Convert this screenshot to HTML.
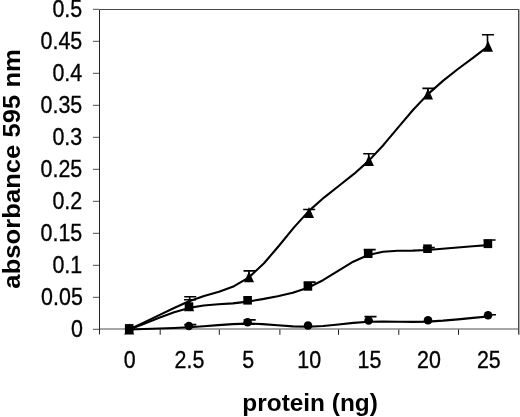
<!DOCTYPE html>
<html><head><meta charset="utf-8"><style>
html,body{margin:0;padding:0;background:#fff;}
body{width:520px;height:417px;overflow:hidden;}
svg{display:block;will-change:transform;}
.tk{font-family:"Liberation Sans",sans-serif;font-size:21px;fill:#000;stroke:#000;stroke-width:0.3px;}
.ti{font-family:"Liberation Sans",sans-serif;font-size:24px;font-weight:bold;fill:#000;}
</style></head><body>
<svg width="520" height="417" viewBox="0 0 520 417">
<path d="M99.5 9.5 H518.5 V334.5" fill="none" stroke="#484848" stroke-width="1"/>
<path d="M519.5 9 V335" fill="none" stroke="#b0b0b0" stroke-width="1"/>
<path d="M99.5 329.1 H518" fill="none" stroke="#888" stroke-width="1.5"/>
<path d="M99.5 9.5 V334.5" fill="none" stroke="#252525" stroke-width="1"/>
<path d="M93 9.4H99M93 41.4H99M93 73.4H99M93 105.4H99M93 137.4H99M93 169.4H99M93 201.4H99M93 233.4H99M93 265.4H99M93 297.4H99M93 329.4H99" fill="none" stroke="#707070" stroke-width="1.4"/>
<path d="M160.2 329.5V334.8M219.3 329.5V334.8M279.9 329.5V334.8M338.5 329.5V334.8M398.8 329.5V334.8M458.5 329.5V334.8" fill="none" stroke="#202020" stroke-width="1"/>
<g fill="none" stroke="#000" stroke-width="1.6"><path d="M189.70 301.30 V296.80 M184.20 296.80 H196.20" />
<path d="M249.00 276.80 V270.90 M243.50 270.90 H255.50" />
<path d="M308.70 212.40 V209.50 M303.20 209.50 H315.20" />
<path d="M368.70 160.60 V153.70 M363.20 153.70 H375.20" />
<path d="M427.90 94.10 V88.40 M422.40 88.40 H434.40" />
<path d="M487.50 46.30 V34.70 M482.00 34.70 H494.00" /></g>
<path d="M129.20 329.50 L144.16 322.35 L159.12 315.14 L174.08 308.05 L189.05 301.30 L204.03 296.00 L219.02 291.69 L234.01 286.18 L249.00 277.30 L264.00 263.30 L279.00 245.74 L294.01 227.36 L309.00 210.90 L324.00 197.57 L339.01 185.76 L353.98 173.94 L368.90 160.60 L383.71 144.68 L398.44 127.19 L413.18 109.79 L428.00 94.10 L442.94 80.84 L457.94 69.03 L472.98 57.81 L488.00 46.30" fill="none" stroke="#000" stroke-width="2.10" stroke-linejoin="round"/>
<g fill="#000"><path d="M129.20 323.50 L134.20 334.50 L124.20 334.50 Z"/><path d="M189.05 300.30 L194.05 311.30 L184.05 311.30 Z"/><path d="M249.00 271.30 L254.00 282.30 L244.00 282.30 Z"/><path d="M309.00 206.90 L314.00 217.90 L304.00 217.90 Z"/><path d="M368.90 155.10 L373.90 166.10 L363.90 166.10 Z"/><path d="M428.00 88.60 L433.00 99.60 L423.00 99.60 Z"/><path d="M488.00 40.80 L493.00 51.80 L483.00 51.80 Z"/></g>
<g fill="none" stroke="#000" stroke-width="1.6"><path d="M189.50 306.60 V299.70 M184.00 299.70 H196.00" />
<path d="M309.20 286.40 V282.10 M303.70 282.10 H315.70" />
<path d="M369.20 253.70 V249.60 M363.70 249.60 H375.70" />
<path d="M428.30 248.70 V247.60 M422.80 247.60 H434.80" />
<path d="M489.10 243.80 V240.00 M483.60 240.00 H495.60" /></g>
<path d="M129.20 329.50 L144.18 323.74 L159.17 317.74 L174.13 312.22 L189.00 307.90 L203.69 305.43 L218.27 304.27 L232.86 303.35 L247.60 301.60 L262.56 299.10 L277.64 296.30 L292.79 292.67 L307.90 287.70 L323.00 280.20 L338.11 270.79 L353.20 261.67 L368.20 255.00 L383.07 251.80 L397.84 250.76 L412.62 250.59 L427.50 250.00 L442.52 248.77 L457.63 247.54 L472.77 246.32 L487.90 245.10" fill="none" stroke="#000" stroke-width="2.10" stroke-linejoin="round"/>
<g fill="#000"><rect x="124.90" y="324.10" width="8.60" height="8.60"/><rect x="184.70" y="302.30" width="8.60" height="8.60"/><rect x="243.30" y="296.00" width="8.60" height="8.60"/><rect x="303.60" y="282.10" width="8.60" height="8.60"/><rect x="363.90" y="249.40" width="8.60" height="8.60"/><rect x="423.20" y="244.40" width="8.60" height="8.60"/><rect x="483.60" y="239.50" width="8.60" height="8.60"/></g>
<g fill="none" stroke="#000" stroke-width="1.6"><path d="M189.80 326.00 V324.60 M184.30 324.60 H196.30" />
<path d="M249.20 322.30 V319.90 M243.70 319.90 H255.70" />
<path d="M370.00 320.50 V316.60 M364.50 316.60 H376.50" />
<path d="M489.50 315.20 V314.70 M484.00 314.70 H496.00" /></g>
<path d="M129.20 329.50 L144.15 328.99 L159.11 328.49 L174.05 327.96 L188.90 327.30 L203.61 326.32 L218.21 325.11 L232.83 324.08 L247.60 323.60 L262.58 324.11 L277.68 325.28 L292.85 326.41 L308.00 326.80 L323.16 326.01 L338.36 324.51 L353.53 322.90 L368.60 321.80 L383.52 321.53 L398.33 321.71 L413.13 321.88 L428.00 321.60 L442.98 320.67 L458.01 319.36 L473.06 317.89 L488.10 316.50" fill="none" stroke="#000" stroke-width="2.10" stroke-linejoin="round"/>
<g fill="#000"><circle cx="129.20" cy="329.00" r="4.30"/><circle cx="188.90" cy="326.00" r="4.30"/><circle cx="247.60" cy="322.30" r="4.30"/><circle cx="308.00" cy="325.50" r="4.30"/><circle cx="368.60" cy="320.50" r="4.30"/><circle cx="428.00" cy="320.30" r="4.30"/><circle cx="488.10" cy="315.20" r="4.30"/></g>
<text transform="translate(82.8 336.7) scale(1.020 1.130)" text-anchor="end" class="tk">0</text>
<text transform="translate(82.8 304.7) scale(1.020 1.130)" text-anchor="end" class="tk">0.05</text>
<text transform="translate(82.2 272.7) scale(1.020 1.130)" text-anchor="end" class="tk">0.1</text>
<text transform="translate(82.2 240.7) scale(1.020 1.130)" text-anchor="end" class="tk">0.15</text>
<text transform="translate(82.2 208.7) scale(1.020 1.130)" text-anchor="end" class="tk">0.2</text>
<text transform="translate(82.2 176.7) scale(1.020 1.130)" text-anchor="end" class="tk">0.25</text>
<text transform="translate(82.2 144.7) scale(1.020 1.130)" text-anchor="end" class="tk">0.3</text>
<text transform="translate(82.2 112.7) scale(1.020 1.130)" text-anchor="end" class="tk">0.35</text>
<text transform="translate(82.2 80.7) scale(1.020 1.130)" text-anchor="end" class="tk">0.4</text>
<text transform="translate(82.2 48.7) scale(1.020 1.130)" text-anchor="end" class="tk">0.45</text>
<text transform="translate(82.2 16.7) scale(1.020 1.130)" text-anchor="end" class="tk">0.5</text>
<text transform="translate(129.7 367.9) scale(1.020 1.130)" text-anchor="middle" class="tk">0</text>
<text transform="translate(189.5 367.9) scale(1.020 1.130)" text-anchor="middle" class="tk">2.5</text>
<text transform="translate(248.2 367.9) scale(1.020 1.130)" text-anchor="middle" class="tk">5</text>
<text transform="translate(309.2 367.9) scale(1.020 1.130)" text-anchor="middle" class="tk">10</text>
<text transform="translate(369.5 367.9) scale(1.020 1.130)" text-anchor="middle" class="tk">15</text>
<text transform="translate(428.9 367.9) scale(1.020 1.130)" text-anchor="middle" class="tk">20</text>
<text transform="translate(488.8 367.9) scale(1.020 1.130)" text-anchor="middle" class="tk">25</text>
<text x="310.1" y="410.6" text-anchor="middle" class="ti" textLength="135.5" lengthAdjust="spacingAndGlyphs">protein (ng)</text>
<text transform="translate(20 168.9) rotate(-90)" x="0" y="0" text-anchor="middle" class="ti" textLength="239.5" lengthAdjust="spacingAndGlyphs">absorbance 595 nm</text>
</svg>
</body></html>
